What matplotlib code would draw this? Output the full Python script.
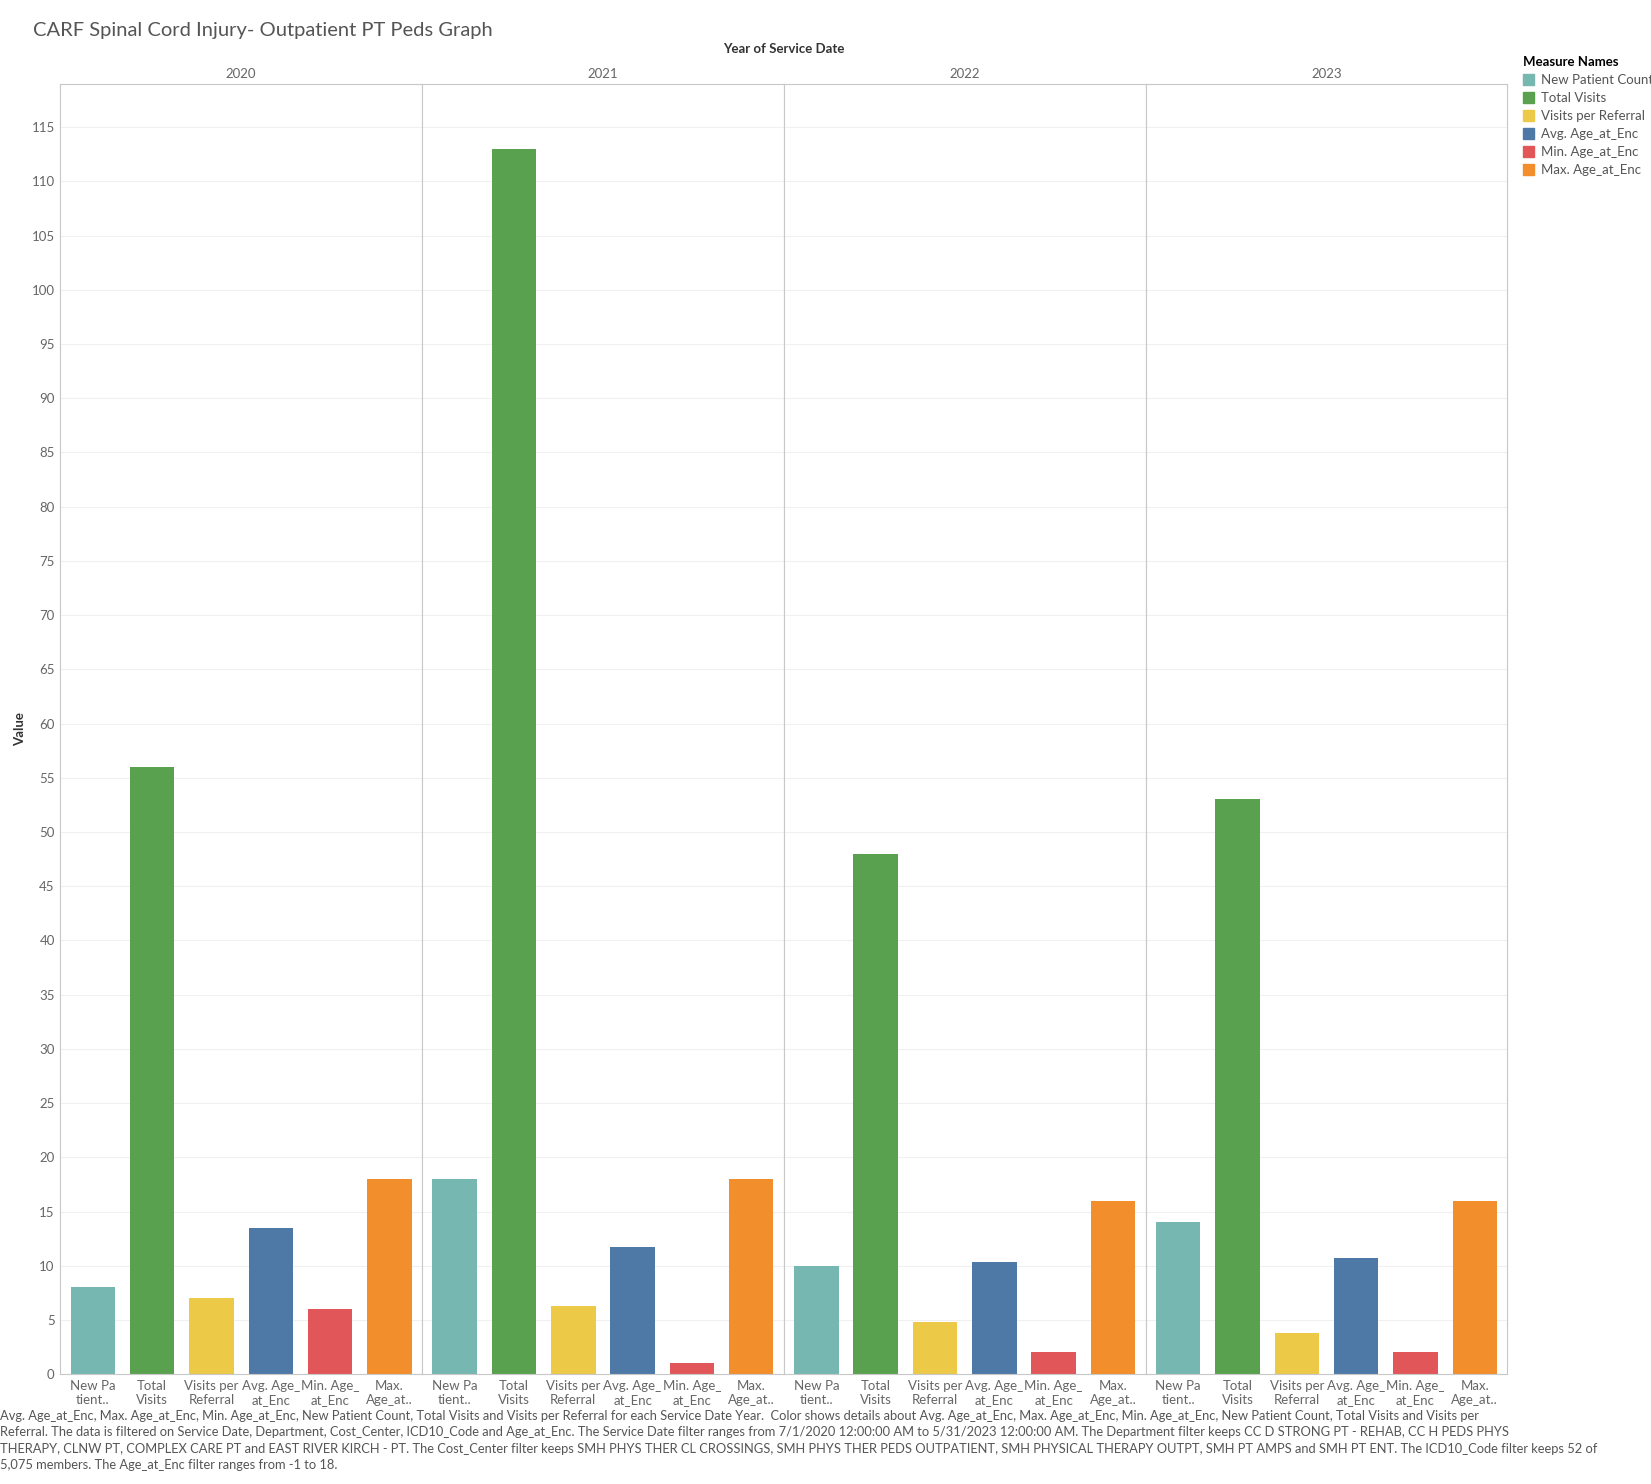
import matplotlib

matplotlib.use("Agg")
import matplotlib.pyplot as plt
from matplotlib.patches import Patch

plt.rcParams["font.family"] = ["Lato", "DejaVu Sans"]

YEARS = ["2020", "2021", "2022", "2023"]
MEASURES = ["New Patient Count", "Total Visits", "Visits per Referral",
            "Avg. Age_at_Enc", "Min. Age_at_Enc", "Max. Age_at_Enc"]
TICK_LABELS = ["New Pa\ntient..", "Total\nVisits", "Visits per\nReferral",
               "Avg. Age_\nat_Enc", "Min. Age_\nat_Enc", "Max.\nAge_at.."]
COLORS = ["#76b7b2", "#59a14f", "#edc948", "#4e79a7", "#e15759", "#f28e2b"]
VALUES = {
    "2020": [8, 56, 7.0, 13.5, 6, 18],
    "2021": [18, 113, 6.3, 11.7, 1, 18],
    "2022": [10, 48, 4.8, 10.3, 2, 16],
    "2023": [14, 53, 3.8, 10.7, 2, 16],
}
FOOTNOTE = (
    "Avg. Age_at_Enc, Max. Age_at_Enc, Min. Age_at_Enc, New Patient Count, Total Visits and Visits per Referral for each Service Date Year.  "
    "Color shows details about Avg. Age_at_Enc, Max. Age_at_Enc, Min. Age_at_Enc, New Patient Count, Total Visits and Visits per\n"
    "Referral. The data is filtered on Service Date, Department, Cost_Center, ICD10_Code and Age_at_Enc. The Service Date filter ranges from "
    "7/1/2020 12:00:00 AM to 5/31/2023 12:00:00 AM. The Department filter keeps CC D STRONG PT - REHAB, CC H PEDS PHYS\n"
    "THERAPY, CLNW PT, COMPLEX CARE PT and EAST RIVER KIRCH - PT. The Cost_Center filter keeps SMH PHYS THER CL CROSSINGS, SMH PHYS THER "
    "PEDS OUTPATIENT, SMH PHYSICAL THERAPY OUTPT, SMH PT AMPS and SMH PT ENT. The ICD10_Code filter keeps 52 of\n"
    "5,075 members. The Age_at_Enc filter ranges from -1 to 18."
)

fig = plt.figure(figsize=(16.51, 14.84), dpi=100)
left, right, bottom, top = 0.0365, 0.913, 0.074, 0.9436
w = (right - left) / len(YEARS)
x = list(range(len(MEASURES)))

for i, year in enumerate(YEARS):
    ax = fig.add_axes([left + i * w, bottom, w, top - bottom])
    ax.bar(x, VALUES[year], width=0.75, color=COLORS)
    ax.set_xlim(-0.55, 5.55)
    ax.set_ylim(0, 119)
    ax.set_yticks(range(0, 116, 5))
    ax.grid(axis="y", color="#f0f0f0", linewidth=0.8)
    ax.set_axisbelow(True)
    ax.set_xticks(x)
    ax.set_xticklabels(TICK_LABELS, fontsize=9.5, color="#666666")
    ax.tick_params(length=0, pad=4)
    for s in ax.spines.values():
        s.set_color("#c8c8c8")
    if i == 0:
        ax.tick_params(axis="y", labelsize=9.5, labelcolor="#666666")
        ax.set_ylabel("Value", fontsize=9.5, fontweight="bold", color="#333333")
    else:
        ax.set_yticklabels([])
    ax.set_title(year, fontsize=9.5, color="#666666", pad=4)

fig.text(0.02, 0.985, "CARF Spinal Cord Injury- Outpatient PT Peds Graph",
         fontsize=14.5, color="#555555", va="top", ha="left")
fig.text((left + right) / 2, 0.964, "Year of Service Date", fontsize=9.5,
         fontweight="bold", color="#333333", ha="center")
fig.legend(handles=[Patch(color=c, label=m) for c, m in zip(COLORS, MEASURES)],
           title="Measure Names", loc="upper left", bbox_to_anchor=(0.915, 0.97),
           frameon=False, fontsize=9.5, title_fontproperties={"size": 9.5, "weight": "bold"},
           handlelength=0.9, handleheight=0.9, handletextpad=0.5, labelspacing=0.45,
           alignment="left", labelcolor="#555555")
fig.text(0.0, 0.05, FOOTNOTE, fontsize=9.3, color="#555555", va="top", ha="left",
         linespacing=1.45)

fig.savefig("out.png", dpi=100)
